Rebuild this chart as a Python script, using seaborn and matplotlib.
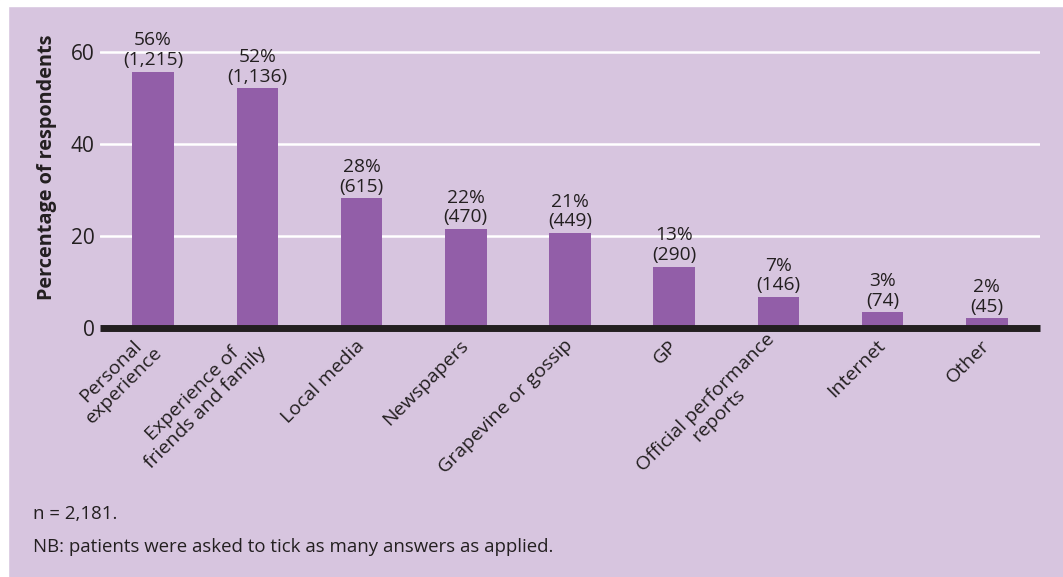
import matplotlib
matplotlib.use("Agg")
import matplotlib.pyplot as plt
import seaborn as sns
import pandas as pd

categories = ["Personal\nexperience", "Experience of\nfriends and family", "Local media",
              "Newspapers", "Grapevine or gossip", "GP", "Official performance\nreports",
              "Internet", "Other"]
percent = [55.7, 52.1, 28.2, 21.5, 20.6, 13.3, 6.7, 3.4, 2.1]
pct_labels = ["56%", "52%", "28%", "22%", "21%", "13%", "7%", "3%", "2%"]
counts = ["1,215", "1,136", "615", "470", "449", "290", "146", "74", "45"]
yticks = [0, 20, 40, 60]

BG = "#d7c5df"
BAR = "#925ea8"
TXT = "#231f20"

sns.set_theme(style="white")
plt.rcParams["font.family"] = ["Open Sans", "DejaVu Sans"]

fig = plt.figure(figsize=(10.63, 5.77), dpi=100, facecolor=BG)
fig.patches.append(plt.Rectangle((0, 1 - 6/577), 1, 6/577, transform=fig.transFigure,
                                 color="white", zorder=0))
fig.patches.append(plt.Rectangle((0, 0), 8/1063, 1, transform=fig.transFigure,
                                 color="white", zorder=0))

ax = fig.add_axes([100/1063, 1 - 328/577, 940/1063, (328 - 6)/577])
ax.set_facecolor(BG)

df = pd.DataFrame({"cat": categories, "pct": percent})
sns.barplot(data=df, x="cat", y="pct", color=BAR, saturation=1, width=0.4, ax=ax,
            zorder=3, linewidth=0, edgecolor=BAR)

ax.set_xlim(-0.51, 8.51)
ymax = (328 - 6) / 4.6
ax.set_ylim(0, ymax)
ax.set_yticks(yticks)
ax.set_yticklabels([str(t) for t in yticks], fontsize=15, color=TXT)
ax.tick_params(axis="y", length=0, pad=4)
ax.tick_params(axis="x", length=0, pad=6)
for t in yticks[1:]:
    ax.axhline(t, color="white", lw=1.8, zorder=1)
ax.axhline(0, color=TXT, lw=5, zorder=4, clip_on=False, solid_capstyle="butt")
for s in ax.spines.values():
    s.set_visible(False)

ax.set_xticks(range(len(categories)))
ax.set_xticklabels(categories, rotation=45, ha="right", va="center", rotation_mode="anchor",
                   fontsize=14, color=TXT, multialignment="center", linespacing=1.05)
for lbl in ax.get_xticklabels():
    lbl.set_y(-0.02)

ax.set_xlabel("")
ax.set_ylabel("Percentage of respondents", fontsize=14.3, fontweight="bold", color=TXT,
              labelpad=10)

for i, (p, pl, c) in enumerate(zip(percent, pct_labels, counts)):
    ax.annotate(f"{pl}\n({c})", xy=(i, p), xytext=(0, 2), textcoords="offset points",
                ha="center", va="bottom", fontsize=13.8, color=TXT, linespacing=1.12)

fig.text(33/1063, 1 - 514/577, "n = 2,181.", fontsize=13.4, color=TXT, va="center")
fig.text(33/1063, 1 - 547/577, "NB: patients were asked to tick as many answers as applied.",
         fontsize=13.4, color=TXT, va="center")

fig.savefig("out.png", dpi=100, facecolor=BG)
